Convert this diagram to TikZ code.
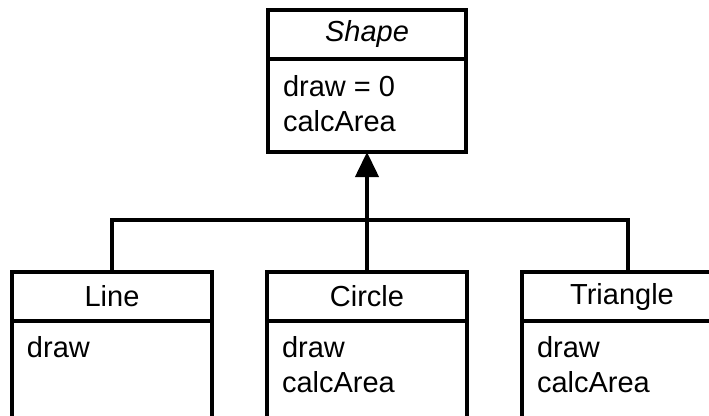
\documentclass[tikz,border=0pt]{standalone}
\usepackage{fontspec}
\setmainfont{Liberation Sans}
\usetikzlibrary{positioning, arrows.meta}

\begin{document}
\begin{tikzpicture}[
      x=1pt, y=1pt,
      node distance=0pt,
      every node/.style={font=\fontsize{29}{35}\selectfont, outer sep=0pt},
      classname/.style={rectangle, draw, line width=4pt, inner sep=0pt,
                        minimum width=200pt, minimum height=49pt},
      classbody/.style={rectangle, draw, line width=4pt, inner sep=0pt,
                        minimum width=200pt, minimum height=#1},
      classbody/.default=150pt,
      members/.style={anchor=north west, align=left, inner sep=0pt},
      link/.style={draw, line width=4pt, line join=miter},
      inherit/.style={link, -{Triangle[length=25pt, width=23pt]}},
    ]
    \useasboundingbox (0,0) rectangle (709,-415);
    \clip (0,0) rectangle (709,-415);

    % abstract base class
    \node[classname, minimum width=198pt] (shape) at (367,-34.5) {\itshape Shape};
    \node[classbody=93pt, minimum width=198pt, below=of shape] (shape-body) {};
    \node[members, below right=16pt and 15pt of shape-body.north west] (shape-ops)
         {draw = 0\\calcArea};

    % derived classes
    \node[classname] (line)     at (112,-296.5) {Line};
    \node[classname] (circle)   at (367,-296.5) {Circle};
    \node[classname] (triangle) at (622,-296.5) {Triangle};

    \node[classbody, below=of line]     (line-body)     {};
    \node[classbody, below=of circle]   (circle-body)   {};
    \node[classbody, below=of triangle] (triangle-body) {};

    \node[members, below right=15pt and 15pt of line-body.north west]     (line-ops)
         {draw};
    \node[members, below right=15pt and 15pt of circle-body.north west]   (circle-ops)
         {draw\\calcArea};
    \node[members, below right=15pt and 15pt of triangle-body.north west] (triangle-ops)
         {draw\\calcArea};

    % generalisation tree
    \coordinate (bus)     at (367,-220);
    \coordinate (bus-end) at (628,-220);

    \draw[link] (line.north) |- (bus-end) -- (bus-end |- triangle.north);
    \draw[link] (circle.north) -- (bus);
    \draw[inherit] (bus) -- (shape-body.south);
  \end{tikzpicture}
\end{document}
